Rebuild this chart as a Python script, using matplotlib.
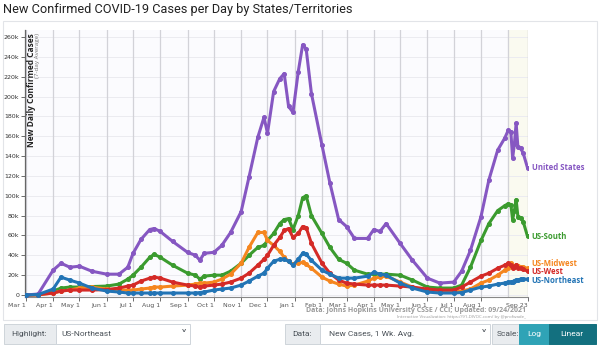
import matplotlib
matplotlib.use('Agg')
import matplotlib.pyplot as plt
from matplotlib.patches import Rectangle
import pandas as pd

# sample dates (7-day average), values in thousands
dates = pd.to_datetime([
    "2020-03-01", "2020-03-15", "2020-04-01", "2020-04-10", "2020-04-20",
    "2020-05-01", "2020-05-15", "2020-06-01", "2020-06-15", "2020-06-25",
    "2020-07-01", "2020-07-10", "2020-07-20", "2020-07-25", "2020-08-01",
    "2020-08-15", "2020-09-01", "2020-09-10", "2020-09-15", "2020-09-20",
    "2020-10-01", "2020-10-10", "2020-10-20", "2020-11-01", "2020-11-10",
    "2020-11-20", "2020-11-27", "2020-12-01", "2020-12-08", "2020-12-15",
    "2020-12-20", "2020-12-25", "2020-12-30", "2021-01-05", "2021-01-10",
    "2021-01-14", "2021-01-20", "2021-02-01", "2021-02-10", "2021-02-20",
    "2021-03-01", "2021-03-10", "2021-03-25", "2021-04-01", "2021-04-08",
    "2021-04-15", "2021-05-01", "2021-05-15", "2021-06-01", "2021-06-15",
    "2021-07-01", "2021-07-10", "2021-07-20", "2021-08-01", "2021-08-10",
    "2021-08-20", "2021-08-28", "2021-09-01", "2021-09-04", "2021-09-06",
    "2021-09-08", "2021-09-10", "2021-09-12", "2021-09-15", "2021-09-18",
    "2021-09-23"])

us = [0, 1, 25, 32, 28, 29, 24, 21, 21, 28,
      42, 56, 66, 67, 64, 54, 43, 40, 35, 42,
      43, 50, 63, 84, 119, 159, 179, 163, 205, 218,
      223, 190, 184, 225, 252, 248, 203, 151, 113, 76,
      69, 57, 57, 66, 64, 72, 52, 35, 17, 12,
      13, 24, 45, 79, 116, 146, 158, 166, 164, 138,
      152, 173, 149, 148, 143, 128]
south = [0, 0.3, 4, 7, 8, 8, 8.5, 9, 11, 16,
         20, 28, 38, 41, 38, 30, 22, 20, 16, 19,
         20, 20, 24, 32, 40, 48, 50, 55, 62, 72,
         76, 77, 66, 80, 98, 100, 80, 62, 48, 36,
         32, 25, 21, 21, 21, 21, 20, 15, 8, 7,
         7, 10, 28, 55, 72, 85, 90, 92, 91, 76,
         85, 96, 79, 78, 74, 59]
midwest = [0, 0.2, 2, 4, 5, 7, 8, 6, 5, 5,
           5, 6, 7, 8, 8, 9, 10, 11, 12, 12,
           13, 16, 21, 32, 48, 63, 63, 55, 50, 44,
           38, 34, 31, 32, 33, 31, 27, 18, 14, 11,
           9, 10, 14, 17, 18, 19, 13, 8, 4, 3,
           3, 4, 6, 12, 15, 20, 25, 27, 32, 29,
           28, 30, 29, 28, 28, 27]
west = [0, 0.3, 2, 4, 5, 5, 5, 5.5, 7, 9,
        10, 14, 17, 18, 17, 13, 10, 9, 8, 9,
        10, 11, 13, 17, 22, 30, 36, 40, 50, 58,
        65, 67, 58, 62, 69, 68, 52, 32, 22, 15,
        12, 11, 10, 10, 10, 10, 9, 8, 6, 5,
        5, 8, 13, 19, 22, 27, 30, 32, 30, 27,
        28, 30, 27, 27, 26, 24]
northeast = [0, 0.5, 6, 18, 15, 12, 7, 4, 3, 2,
             2, 2, 2, 2, 2, 2, 2, 2, 2.5, 3,
             5, 6, 7, 10, 14, 19, 22, 27, 34, 36,
             36, 34, 30, 36, 42, 41, 35, 25, 21, 17,
             17, 17, 19, 23, 21, 20, 12, 7, 3, 2,
             2, 2.5, 5, 8, 9, 11, 12, 13, 13, 13,
             14, 15, 15, 16, 16, 16]

series = [
    ("US-South", south, "#3b9b2f"),
    ("US-Midwest", midwest, "#f5861f"),
    ("US-West", west, "#d42a27"),
    ("United States", us, "#8657c2"),
    ("US-Northeast", northeast, "#2274b5"),
]
# end labels are spread a little so they don't sit on each other
label_nudge = {"US-Midwest": 4.5, "US-West": -0.5, "US-Northeast": -1.5}

tick_dates = pd.to_datetime([
    "2020-03-01", "2020-04-01", "2020-05-01", "2020-06-01", "2020-07-01",
    "2020-08-01", "2020-09-01", "2020-10-01", "2020-11-01", "2020-12-01",
    "2021-01-01", "2021-02-01", "2021-03-01", "2021-04-01", "2021-05-01",
    "2021-06-01", "2021-07-01", "2021-08-01", "2021-09-23"])
tick_labels = ["Mar 1", "Apr 1", "May 1", "Jun 1", "Jul 1", "Aug 1", "Sep 1",
               "Oct 1", "Nov 1", "Dec 1", "Jan 1", "Feb 1", "Mar 1", "Apr 1",
               "May 1", "Jun 1", "Jul 1", "Aug 1", "Sep 23"]
grid_dates = pd.date_range("2020-03-01", "2021-09-01", freq="MS")
y_ticks = list(range(0, 261, 20))


def fx(px):
    return px / 600.0


def fy(py):
    return 1 - py / 345.0


fig = plt.figure(figsize=(6, 3.45), dpi=100)
fig.patch.set_facecolor("white")

fig.text(fx(3), fy(10), "New Confirmed COVID-19 Cases per Day by States/Territories",
         family="Roboto", fontsize=9.2, color="#222222", ha="left", va="center")
fig.add_artist(Rectangle((fx(3), fy(320)), fx(594), 299 / 345.0,
                         transform=fig.transFigure, fill=False,
                         edgecolor="#e2e4e8", lw=0.8))

ax = fig.add_axes([fx(25), fy(297), fx(503), 267 / 345.0])
ax.set_facecolor("#fbfbfe")
start = pd.Timestamp("2020-02-29")
end = pd.Timestamp("2021-09-23")
ax.set_xlim(start, end + pd.Timedelta(hours=12))
ax.set_ylim(-2, 267)

ax.axvspan(pd.Timestamp("2021-09-01"), end, color="#fafaf0", zorder=0)
for y in y_ticks:
    ax.axhline(y, color="#ebebf0", lw=0.7, zorder=1)
for d in grid_dates:
    ax.axvline(d, color="#d2d2d8", lw=0.9, zorder=1)
ax.axvline(end, color="#c8c8cc", lw=1.0, zorder=1)

for name, vals, col in series:
    ax.plot(dates, vals, color=col, lw=2.2, marker="o", ms=2.6,
            solid_capstyle="round", zorder=3)
    ax.annotate(name, (dates[-1], vals[-1] + label_nudge.get(name, 0)),
                xytext=(3, 0), textcoords="offset points", color=col,
                fontsize=5.6, fontweight="bold", family="Open Sans",
                va="center", ha="left", annotation_clip=False)

ax.set_yticks(y_ticks)
ax.set_yticklabels(["0" if v == 0 else "%dk" % v for v in y_ticks])
ax.set_xticks(tick_dates)
ax.set_xticklabels(tick_labels, ha="right")
ax.tick_params(axis="both", labelsize=4.5, colors="#555555", length=3,
               width=0.6, pad=1)
ax.tick_params(axis="y", labelcolor="#333333")
for s in ["top", "right"]:
    ax.spines[s].set_visible(False)
ax.spines["left"].set_color("#666666")
ax.spines["bottom"].set_color("#888888")
ax.spines["left"].set_linewidth(0.9)
ax.spines["bottom"].set_linewidth(0.8)

fig.text(fx(27), fy(33), "New Daily Confirmed Cases", rotation=90,
         fontsize=6, fontweight="bold", family="Open Sans", color="#222222",
         ha="left", va="top")
fig.text(fx(35), fy(33), "(7-day Average)", rotation=90, fontsize=4.5,
         family="Open Sans", color="#777777", ha="left", va="top")

fig.text(fx(526), fy(311), "Data: Johns Hopkins University CSSE / CCI; Updated: 09/24/2021",
         fontsize=5, fontweight="bold", family="Open Sans", color="#999999",
         ha="right", va="center")
fig.text(fx(526), fy(317), "Interactive Visualization: https://91-DIVOC.com/ by @profwade_",
         fontsize=3.2, family="Open Sans", color="#999999", ha="right",
         va="center")


def box(x0, x1, color, edge="#ced4da"):
    fig.add_artist(Rectangle((fx(x0), fy(344)), fx(x1 - x0), 20 / 345.0,
                             transform=fig.transFigure, facecolor=color,
                             edgecolor=edge, lw=0.7))


def label(x, text, color="#495057", ha="left", y=334, size=6):
    fig.text(fx(x), fy(y), text, fontsize=size, family=["Roboto", "DejaVu Sans"],
             color=color, ha=ha, va="center")


# Highlight dropdown
box(4, 56, "#e9ecef")
box(56, 190, "white")
label(11, "Highlight:")
label(61, "US-Northeast")
label(184, "\u02c5", ha="center", y=336, size=9)
# Data dropdown
box(285, 320, "#e9ecef")
box(320, 490, "white")
label(292, "Data:")
label(329, "New Cases, 1 Wk. Avg.")
label(484, "\u02c5", ha="center", y=336, size=9)
# Scale buttons
box(492, 519, "#e9ecef")
box(519, 549, "#2fa3b6", edge="#2fa3b6")
box(549, 596, "#13707f", edge="#13707f")
label(497, "Scale:")
label(534, "Log", color="white", ha="center")
label(572, "Linear", color="white", ha="center")

fig.savefig("out.png", dpi=100)
